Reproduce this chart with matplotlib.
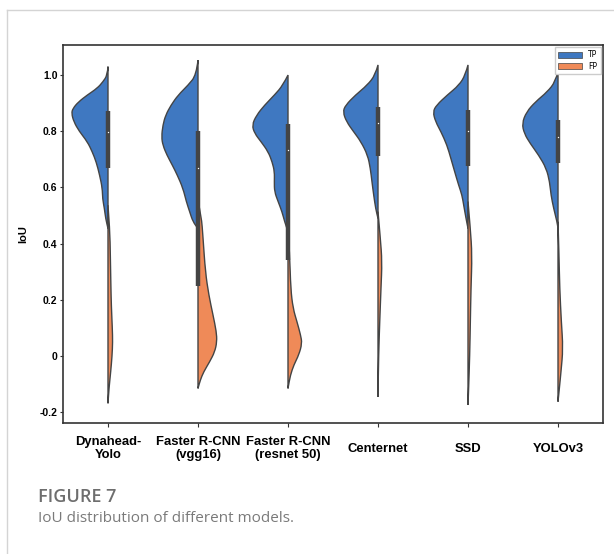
import matplotlib.pyplot as plt
from matplotlib.lines import Line2D
from matplotlib.patches import Patch, PathPatch
from matplotlib.path import Path
import numpy as np

models = ["Dynahead-\nYolo", "Faster R-CNN\n(vgg16)", "Faster R-CNN\n(resnet 50)",
          "Centernet", "SSD", "YOLOv3"]

# density profiles: (IoU, half width of the violin)
dyna_tp = [(1.03, 0), (1.0, 0.007), (0.976, 0.056), (0.953, 0.12), (0.929, 0.23),
           (0.904, 0.33), (0.881, 0.39), (0.864, 0.405), (0.834, 0.38), (0.80, 0.32),
           (0.763, 0.23), (0.727, 0.175), (0.69, 0.13), (0.644, 0.093), (0.597, 0.063),
           (0.56, 0.06), (0.525, 0.04), (0.49, 0.026), (0.454, 0)]
dyna_fp = [(0.537, 0), (0.45, 0.02), (0.36, 0.026), (0.25, 0.032), (0.18, 0.037),
           (0.10, 0.048), (0.05, 0.052), (0.0, 0.045), (-0.056, 0.03), (-0.115, 0.011),
           (-0.168, 0)]
vgg_tp = [(1.053, 0), (1.0, 0.019), (0.964, 0.11), (0.929, 0.22), (0.893, 0.30),
          (0.857, 0.36), (0.822, 0.39), (0.78, 0.405), (0.75, 0.39), (0.715, 0.345),
          (0.68, 0.286), (0.644, 0.23), (0.597, 0.167), (0.55, 0.13), (0.514, 0.093),
          (0.478, 0.056), (0.454, 0)]
vgg_fp = [(0.55, 0), (0.50, 0.037), (0.42, 0.056), (0.30, 0.082), (0.217, 0.12),
          (0.146, 0.167), (0.087, 0.204), (0.051, 0.21), (0.015, 0.186), (-0.02, 0.13),
          (-0.056, 0.063), (-0.085, 0.026), (-0.115, 0)]
resnet_tp = [(1.0, 0), (0.964, 0.056), (0.929, 0.15), (0.893, 0.26), (0.857, 0.35),
             (0.822, 0.40), (0.792, 0.37), (0.763, 0.30), (0.727, 0.22), (0.69, 0.175),
             (0.656, 0.15), (0.62, 0.152), (0.585, 0.15), (0.55, 0.11), (0.514, 0.067),
             (0.478, 0.037), (0.443, 0)]
resnet_fp = [(0.454, 0), (0.36, 0.019), (0.24, 0.03), (0.17, 0.056), (0.122, 0.10),
             (0.075, 0.14), (0.045, 0.156), (0.004, 0.12), (-0.03, 0.067),
             (-0.068, 0.026), (-0.115, 0)]
center_tp = [(1.036, 0), (1.0, 0.03), (0.964, 0.12), (0.929, 0.25), (0.893, 0.36),
             (0.869, 0.39), (0.834, 0.35), (0.798, 0.27), (0.763, 0.19), (0.715, 0.115),
             (0.668, 0.085), (0.62, 0.067), (0.573, 0.048), (0.525, 0.026), (0.49, 0)]
center_fp = [(0.514, 0), (0.42, 0.026), (0.336, 0.045), (0.24, 0.033), (0.122, 0.019),
             (0.004, 0.007), (-0.145, 0)]
ssd_tp = [(1.036, 0), (1.0, 0.03), (0.964, 0.10), (0.929, 0.23), (0.893, 0.35),
          (0.869, 0.39), (0.834, 0.36), (0.798, 0.30), (0.751, 0.234), (0.703, 0.19),
          (0.656, 0.148), (0.608, 0.104), (0.573, 0.067), (0.537, 0.048), (0.49, 0.022),
          (0.454, 0)]
ssd_fp = [(0.55, 0), (0.454, 0.026), (0.36, 0.045), (0.24, 0.033), (0.122, 0.026),
          (0.004, 0.019), (-0.115, 0.007), (-0.174, 0)]
yolo_tp = [(1.012, 0), (0.976, 0.03), (0.94, 0.12), (0.905, 0.25), (0.869, 0.35),
           (0.828, 0.40), (0.792, 0.375), (0.757, 0.31), (0.715, 0.215), (0.668, 0.13),
           (0.62, 0.093), (0.573, 0.078), (0.525, 0.048), (0.478, 0.011), (0.454, 0)]
yolo_fp = [(0.478, 0), (0.36, 0.011), (0.24, 0.019), (0.122, 0.037), (0.027, 0.056),
           (-0.056, 0.033), (-0.115, 0.015), (-0.162, 0)]

tp_sets = [dyna_tp, vgg_tp, resnet_tp, center_tp, ssd_tp, yolo_tp]
fp_sets = [dyna_fp, vgg_fp, resnet_fp, center_fp, ssd_fp, yolo_fp]

# inner box (quartiles and median)
box_q1 = [0.67, 0.25, 0.342, 0.712, 0.676, 0.686]
box_med = [0.796, 0.671, 0.733, 0.828, 0.80, 0.78]
box_q3 = [0.872, 0.80, 0.826, 0.885, 0.875, 0.84]

tp_color = "#3f78c1"
fp_color = "#ef8a58"
edge = "#444444"


def half_violin(ax, pos, profile, side, color):
    # smooth outline (quadratic curves through midpoints), closed along the centre
    y, w = np.array(profile).T
    x = pos + side * w
    verts = [(x[0], y[0])]
    codes = [Path.MOVETO]
    for k in range(1, len(x) - 1):
        verts += [(x[k], y[k]), ((x[k] + x[k + 1]) / 2, (y[k] + y[k + 1]) / 2)]
        codes += [Path.CURVE3, Path.CURVE3]
    verts += [(x[-1], y[-1]), (pos, y[0]), (pos, y[0])]
    codes += [Path.LINETO, Path.LINETO, Path.CLOSEPOLY]
    ax.add_patch(PathPatch(Path(verts, codes), facecolor=color, edgecolor=edge,
                           linewidth=1.0, zorder=2))


fig = plt.figure(figsize=(6.14, 5.54), dpi=100)
ax = fig.add_axes([0.1026, 0.2365, 0.8795, 0.6823])

for i in range(len(models)):
    half_violin(ax, i, tp_sets[i], -1, tp_color)
    half_violin(ax, i, fp_sets[i], 1, fp_color)
    ax.plot([i, i], [box_q1[i], box_q3[i]], color=edge, linewidth=3.2,
            solid_capstyle="butt", zorder=3)
    ax.scatter([i], [box_med[i]], s=1, color="white", linewidths=0, zorder=4)

ax.set_xlim(-0.5, 5.5)
ax.set_ylim(-0.238, 1.107)
ax.set_xticks(range(len(models)))
ax.set_xticklabels(models, fontsize=9.4, fontweight="bold", family="Liberation Sans",
                   va="center", linespacing=1.15)
ax.tick_params(axis="x", length=3, pad=15.5, color="#333333")
yt = [-0.2, 0, 0.2, 0.4, 0.6, 0.8, 1.0]
ax.set_yticks(yt)
ax.set_yticklabels(["-0.2", "0", "0.2", "0.4", "0.6", "0.8", "1.0"], fontsize=7.5,
                   fontweight="bold", family="Liberation Sans")
ax.tick_params(axis="y", length=2.5, pad=1.5, color="#333333")
ax.set_ylabel("IoU", fontsize=8, fontweight="bold", family="Liberation Sans", labelpad=8)
for s in ax.spines.values():
    s.set_color("#333333")
    s.set_linewidth(1.2)

handles = [Patch(facecolor=tp_color, edgecolor=edge, linewidth=0.5, label="TP"),
           Patch(facecolor=fp_color, edgecolor=edge, linewidth=0.5, label="FP")]
ax.legend(handles=handles, loc="upper right", fontsize=5.5, handlelength=3.2,
          handleheight=0.9, borderaxespad=0.3, framealpha=1, fancybox=False,
          edgecolor="#cccccc", labelspacing=0.3)

# card border
fig.add_artist(Line2D([7 / 614, 7 / 614], [0, 1 - 10 / 554], color="#d4d4d4", linewidth=1.0))
fig.add_artist(Line2D([7 / 614, 1], [1 - 10 / 554, 1 - 10 / 554], color="#d4d4d4", linewidth=1.0))

fig.text(38 / 614, 1 - 497 / 554, "FIGURE 7", fontsize=13, color="#6e6e6e",
         family="Open Sans", fontweight="semibold", va="center")
fig.text(38 / 614, 1 - 518 / 554, "IoU distribution of different models.", fontsize=11,
         color="#7a7a7a", family="Open Sans", va="center")

fig.savefig("out.png", dpi=100)
